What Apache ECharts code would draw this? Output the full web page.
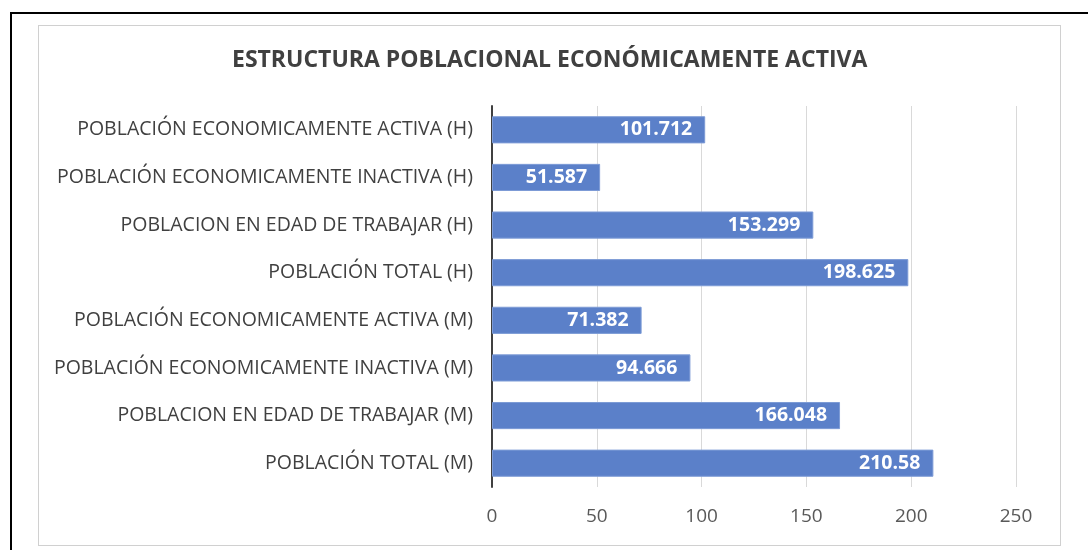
<!DOCTYPE html>
<html><head><meta charset="utf-8">
<script src="https://cdn.jsdelivr.net/npm/echarts@6/dist/echarts.min.js"></script>
<style>
html,body{margin:0;padding:0;background:#fff;width:1088px;height:550px;overflow:hidden;}
#outer{position:absolute;left:10px;top:12px;width:1100px;height:560px;border:2px solid #000;box-sizing:border-box;}
#inner{position:absolute;left:38px;top:25px;width:1023px;height:521px;border:1px solid #d0d0d0;box-sizing:border-box;}
#chart{position:absolute;left:0;top:0;width:1088px;height:550px;}
</style></head>
<body>
<div id="outer"></div>
<div id="inner"></div>
<div id="chart"></div>
<script>
const titleText = 'ESTRUCTURA POBLACIONAL ECONÓMICAMENTE ACTIVA';
const categories = [
  'POBLACIÓN ECONOMICAMENTE ACTIVA (H)',
  'POBLACIÓN ECONOMICAMENTE INACTIVA (H)',
  'POBLACION EN EDAD DE TRABAJAR (H)',
  'POBLACIÓN TOTAL (H)',
  'POBLACIÓN ECONOMICAMENTE ACTIVA (M)',
  'POBLACIÓN ECONOMICAMENTE INACTIVA (M)',
  'POBLACION EN EDAD DE TRABAJAR (M)',
  'POBLACIÓN TOTAL (M)'
];
const values = [101.712, 51.587, 153.299, 198.625, 71.382, 94.666, 166.048, 210.58];
const xTicks = [0, 50, 100, 150, 200, 250];

const chart = echarts.init(document.getElementById('chart'), null, {renderer:'canvas'});
const font = '"Open Sans", "Noto Sans", sans-serif';
chart.setOption({
  animation: false,
  textStyle: {fontFamily: font},
  title: {
    text: titleText, left: 227, top: 44,
    textStyle: {fontFamily: font, fontSize: 23, fontWeight: 'bold', color: '#404040'}
  },
  grid: {left: 492, right: 72, top: 106, bottom: 63, containLabel: false},
  xAxis: {
    type: 'value', min: xTicks[0], max: xTicks[xTicks.length-1], interval: 50,
    axisLine: {show: false}, axisTick: {show: false},
    splitLine: {show: true, lineStyle: {color: '#d9d9d9', width: 1}},
    axisLabel: {color: '#595959', fontSize: 19, margin: 20, fontFamily: font}
  },
  yAxis: {
    type: 'category', data: categories, inverse: true,
    axisLine: {show: true, lineStyle: {color: '#404040', width: 2}},
    axisTick: {show: false},
    axisLabel: {color: '#404040', fontSize: 19.5, margin: 19, fontFamily: font}
  },
  series: [{
    type: 'bar', data: values, barCategoryGap: '43%',
    itemStyle: {color: '#5b80c9', borderColor: '#7d9bd6', borderWidth: 1},
    label: {
      show: true, position: 'insideRight', distance: 13,
      color: '#ffffff', fontWeight: 'bold', fontSize: 19.5, fontFamily: font
    }
  }]
});
</script>
</body></html>
